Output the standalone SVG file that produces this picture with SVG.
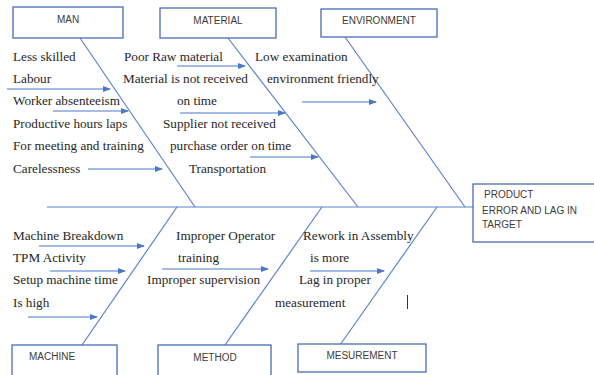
<svg xmlns="http://www.w3.org/2000/svg" width="594" height="375" viewBox="0 0 594 375">
<style>
.box{fill:#fff;stroke:#4a6eb5;stroke-width:1.3}
.lbl{font-family:"Liberation Sans",Arial,sans-serif;font-size:10px;fill:#3c3c3c}
.t{font-family:"Liberation Serif","Times New Roman",serif;font-size:13.2px;fill:#262626}
.bone{stroke:#5b84cc;stroke-width:1.2;fill:none}
.arr{stroke:#4a78c8;stroke-width:1.2;fill:none;marker-end:url(#ah)}
</style>
<defs>
<marker id="ah" markerWidth="8" markerHeight="6" refX="7" refY="3" orient="auto" markerUnits="userSpaceOnUse">
<path d="M0,0 L8,3 L0,6 Z" fill="#4a78c8"/>
</marker>
</defs>
<rect width="594" height="375" fill="#fff"/>
<g id="connectors">
<line class="bone" x1="47" y1="207" x2="473" y2="207"/>
<line class="bone" x1="80" y1="38" x2="195" y2="207"/>
<line class="bone" x1="228" y1="38" x2="358" y2="207"/>
<line class="bone" x1="345" y1="37" x2="465" y2="207"/>
<line class="bone" x1="177" y1="207" x2="82" y2="345"/>
<line class="bone" x1="322" y1="207" x2="225" y2="345"/>
<line class="bone" x1="437" y1="207" x2="340" y2="345"/>
<line class="arr" x1="7" y1="89" x2="110" y2="89"/>
<line class="arr" x1="53" y1="111" x2="128" y2="111"/>
<line class="arr" x1="88" y1="169" x2="162" y2="169"/>
<line class="arr" x1="177" y1="66" x2="245" y2="66"/>
<line class="arr" x1="180" y1="113" x2="285" y2="113"/>
<line class="arr" x1="250" y1="157" x2="318" y2="157"/>
<line class="arr" x1="302" y1="102" x2="376" y2="102"/>
<line class="arr" x1="39" y1="246" x2="144" y2="246"/>
<line class="arr" x1="50" y1="271" x2="125" y2="271"/>
<line class="arr" x1="28" y1="317" x2="97" y2="317"/>
<line class="arr" x1="162" y1="269" x2="268" y2="269"/>
<line class="arr" x1="310" y1="271" x2="384" y2="271"/>
</g>
<g id="man">
<rect class="box" x="13" y="7" width="110" height="31"/>
<text class="lbl" x="68" y="23" text-anchor="middle">MAN</text>
</g>
<g id="material">
<rect class="box" x="160" y="8" width="116" height="30"/>
<text class="lbl" x="218" y="24" text-anchor="middle">MATERIAL</text>
</g>
<g id="environment">
<rect class="box" x="321" y="9" width="116" height="28"/>
<text class="lbl" x="379" y="24" text-anchor="middle">ENVIRONMENT</text>
</g>
<g id="product">
<rect class="box" x="473" y="184" width="125" height="58"/>
<text class="lbl" x="484" y="198">PRODUCT</text>
<text class="lbl" x="482" y="214">ERROR AND LAG IN</text>
<text class="lbl" x="482" y="228">TARGET</text>
</g>
<g id="machine">
<rect class="box" x="12" y="345" width="105" height="32"/>
<text class="lbl" x="29" y="360">MACHINE</text>
</g>
<g id="method">
<rect class="box" x="158" y="345" width="113" height="32"/>
<text class="lbl" x="215" y="361" text-anchor="middle">METHOD</text>
</g>
<g id="mesurement">
<rect class="box" x="298" y="344" width="128" height="28"/>
<text class="lbl" x="362" y="359" text-anchor="middle">MESUREMENT</text>
</g>
<g id="causes">
<text class="t" x="13" y="61">Less skilled</text>
<text class="t" x="13" y="83">Labour</text>
<text class="t" x="13" y="105">Worker absenteeism</text>
<text class="t" x="13" y="128">Productive hours laps</text>
<text class="t" x="13" y="150">For meeting and training</text>
<text class="t" x="13" y="173">Carelessness</text>
<text class="t" x="124" y="61">Poor Raw material</text>
<text class="t" x="123" y="83">Material is not received</text>
<text class="t" x="177" y="105">on time</text>
<text class="t" x="163" y="128">Supplier not received</text>
<text class="t" x="170" y="150">purchase order on time</text>
<text class="t" x="189" y="173">Transportation</text>
<text class="t" x="255" y="61">Low examination</text>
<text class="t" x="267" y="83">environment friendly</text>
<text class="t" x="13" y="240">Machine Breakdown</text>
<text class="t" x="13" y="262">TPM Activity</text>
<text class="t" x="13" y="284">Setup machine time</text>
<text class="t" x="13" y="307">Is high</text>
<text class="t" x="176" y="240">Improper Operator</text>
<text class="t" x="178" y="262">training</text>
<text class="t" x="147" y="284">Improper supervision</text>
<text class="t" x="303" y="240">Rework in Assembly</text>
<text class="t" x="310" y="262">is more</text>
<text class="t" x="299" y="284">Lag in proper</text>
<text class="t" x="275" y="307">measurement</text>
<line x1="407.5" y1="295" x2="407.5" y2="309" stroke="#333" stroke-width="1"/>
</g>
</svg>
